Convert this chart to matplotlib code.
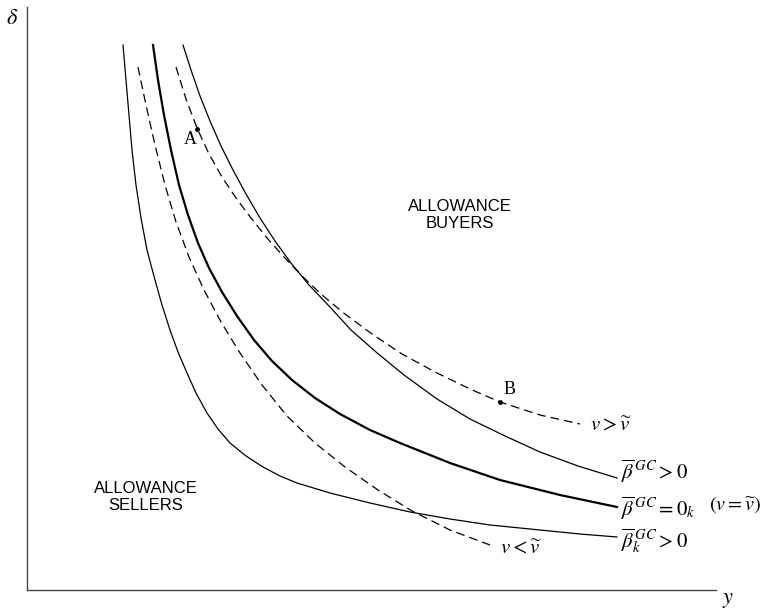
import matplotlib
matplotlib.use("Agg")
import matplotlib.pyplot as plt

plt.rcParams['mathtext.fontset'] = 'stix'
plt.rcParams['font.family'] = 'Liberation Sans'

# curves (x = y-axis units, y = delta units)
low_x = [96, 99, 102, 105, 109, 114, 120, 128, 135, 143, 151, 160, 169, 180, 191, 203, 219, 236, 253, 270, 303, 343, 383, 423, 463, 513, 553, 590]
low_y = [545, 510, 475, 440, 405, 372, 340, 310, 285, 260, 238, 217, 197, 177, 161, 147, 134, 123, 114, 107, 97, 87, 78, 71, 65, 60, 56, 53]

vlow_x = [111, 119, 128, 138, 149, 162, 177, 194, 213, 235, 260, 288, 318, 351, 385, 423, 463]
vlow_y = [523, 485, 445, 405, 368, 333, 300, 268, 237, 205, 174, 147, 123, 100, 79, 60, 45]

zero_x = [126, 131, 137, 144, 152, 161, 171, 182, 195, 210, 227, 245, 265, 288, 313, 343, 373, 423, 473, 533, 590]
zero_y = [545, 510, 475, 440, 405, 375, 347, 322, 298, 274, 250, 229, 210, 192, 176, 160, 147, 127, 110, 95, 83]

vhigh_x = [149, 159, 170, 182, 195, 209, 224, 240, 257, 275, 295, 318, 345, 375, 408, 443, 473, 513, 553]
vhigh_y = [523, 491, 462, 436, 413, 392, 372, 352, 333, 314, 295, 276, 256, 236, 218, 201, 188, 175, 166]

high_x = [156, 164, 173, 183, 194, 206, 219, 233, 248, 264, 282, 302, 324, 349, 377, 410, 443, 478, 513, 551, 590]
high_y = [545, 520, 494, 469, 444, 420, 396, 372, 349, 327, 305, 284, 260, 238, 215, 191, 171, 154, 138, 124, 112]

point_names = ['A', 'B']
point_x = [170, 473]
point_y = [461, 188]

fig = plt.figure(figsize=(7.62, 6.09), dpi=100)
ax = fig.add_axes([27 / 762, 19 / 609, 689 / 762, 583 / 609])
ax.set_xlim(0, 689)
ax.set_ylim(0, 583)

ax.plot(low_x, low_y, color='black', lw=0.9)
ax.plot(zero_x, zero_y, color='black', lw=1.6)
ax.plot(high_x, high_y, color='black', lw=0.9)
ax.plot(vlow_x, vlow_y, color='black', lw=0.9, dashes=[7, 4])
ax.plot(vhigh_x, vhigh_y, color='black', lw=0.9, dashes=[7, 4])
ax.plot(point_x, point_y, 'o', color='black', ms=2.5)

ax.text(163, 450, point_names[0], fontsize=13, family='Liberation Serif', ha='center', va='center')
ax.text(483, 200, point_names[1], fontsize=13, family='Liberation Serif', ha='center', va='center')

ax.text(433, 375, 'ALLOWANCE\nBUYERS', fontsize=12, ha='center', va='center', linespacing=1.15)
ax.text(119, 93, 'ALLOWANCE\nSELLERS', fontsize=12, ha='center', va='center', linespacing=1.15)

ms = 15
ax.text(594, 119, r'$\overline{\beta}^{\,GC} > 0$', fontsize=ms, va='center', clip_on=False)
ax.text(594, 82, r'$\overline{\beta}^{\,GC} = 0_k$', fontsize=ms, va='center', clip_on=False)
ax.text(734, 85, r'$(v = \widetilde{v})$', fontsize=14.5, ha='right', va='center', clip_on=False)
ax.text(594, 49, r'$\overline{\beta}_k^{\,GC} > 0$', fontsize=ms, va='center', clip_on=False)
ax.text(563, 165, r'$v > \widetilde{v}$', fontsize=ms, va='center')
ax.text(473, 42, r'$v < \widetilde{v}$', fontsize=ms, va='center')

for side in ['top', 'right']:
    ax.spines[side].set_visible(False)
for side in ['left', 'bottom']:
    ax.spines[side].set_color('#444444')
    ax.spines[side].set_linewidth(1.0)
ax.set_xticks([])
ax.set_yticks([])

fig.text(12 / 762, 1 - 18 / 609, r'$\delta$', fontsize=16, ha='center', va='center')
fig.text(728 / 762, 1 - 600 / 609, r'$y$', fontsize=16, ha='center', va='center')

fig.savefig('out.png', dpi=100)
